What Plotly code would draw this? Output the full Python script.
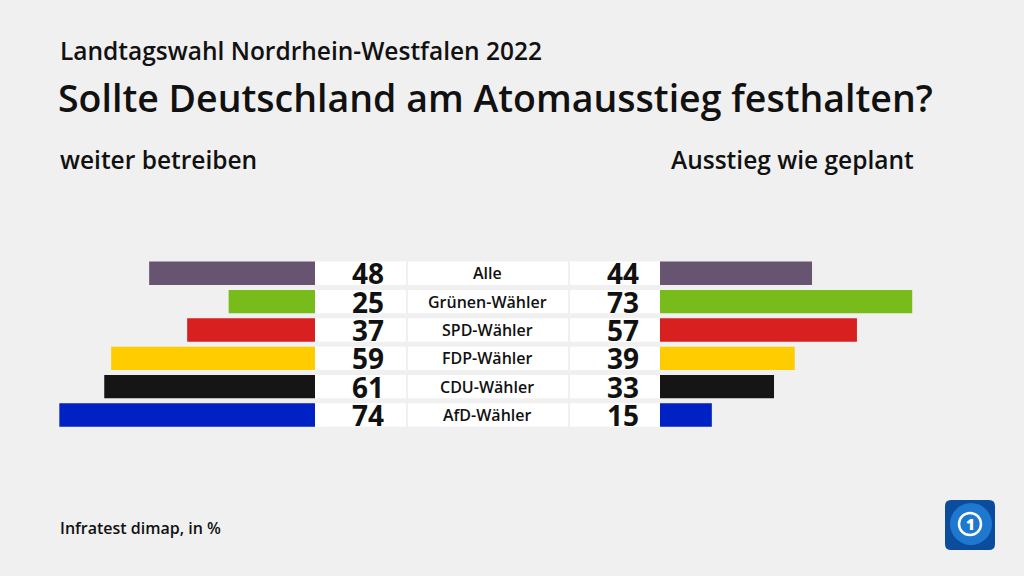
import plotly.graph_objects as go

categories = ["Alle", "Grünen-Wähler", "SPD-Wähler", "FDP-Wähler", "CDU-Wähler", "AfD-Wähler"]
weiter_betreiben = [48, 25, 37, 59, 61, 74]
ausstieg_wie_geplant = [44, 73, 57, 39, 33, 15]
colors = ["#675471", "#78bc1b", "#d82020", "#ffcc00", "#151515", "#0021c3"]

W, H = 1024, 576
BG = "#f0f0f0"
FONT = "Open Sans"
PX_PER_UNIT = 3.455

def px(x):
    return x / W

def py(y):
    return 1 - y / H

ypos = list(range(len(categories)))
row_top, row_bottom = 259.1, 429.2

fig = go.Figure()
fig.add_trace(go.Bar(
    y=ypos, x=weiter_betreiben, orientation="h", marker=dict(color=colors, line=dict(width=0)),
    width=0.825, xaxis="x", yaxis="y", hoverinfo="skip", showlegend=False))
fig.add_trace(go.Bar(
    y=ypos, x=ausstieg_wie_geplant, orientation="h", marker=dict(color=colors, line=dict(width=0)),
    width=0.825, xaxis="x2", yaxis="y", hoverinfo="skip", showlegend=False))

shapes = []
annotations = []
half = 0.825 / 2
for i, cat in enumerate(categories):
    for x0, x1 in [(315, 406), (408, 568), (570, 660)]:
        shapes.append(dict(type="rect", xref="paper", yref="y", x0=px(x0), x1=px(x1),
                           y0=i - half, y1=i + half, fillcolor="white", line=dict(width=0), layer="below"))
    annotations.append(dict(xref="paper", yref="y", x=px(386), y=i, text=str(weiter_betreiben[i]),
                            xanchor="right", yanchor="middle", showarrow=False,
                            font=dict(family=FONT, size=28, color="#111", weight=700)))
    annotations.append(dict(xref="paper", yref="y", x=px(641), y=i, text=str(ausstieg_wie_geplant[i]),
                            xanchor="right", yanchor="middle", showarrow=False,
                            font=dict(family=FONT, size=28, color="#111", weight=700)))
    annotations.append(dict(xref="paper", yref="y", x=px(487), y=i, text=cat,
                            xanchor="center", yanchor="middle", showarrow=False,
                            font=dict(family=FONT, size=16, color="#111", weight=600)))

# titles
annotations += [
    dict(xref="paper", yref="paper", x=px(58), y=py(51), text="Landtagswahl Nordrhein-Westfalen 2022",
         xanchor="left", yanchor="middle", showarrow=False,
         font=dict(family=FONT, size=24.5, color="#111", weight=600)),
    dict(xref="paper", yref="paper", x=px(56), y=py(97), text="Sollte Deutschland am Atomausstieg festhalten?",
         xanchor="left", yanchor="middle", showarrow=False,
         font=dict(family=FONT, size=37.5, color="#111", weight=600)),
    dict(xref="paper", yref="paper", x=px(58), y=py(159), text="weiter betreiben",
         xanchor="left", yanchor="middle", showarrow=False,
         font=dict(family=FONT, size=24.5, color="#111", weight=600)),
    dict(xref="paper", yref="paper", x=px(916), y=py(159), text="Ausstieg wie geplant",
         xanchor="right", yanchor="middle", showarrow=False,
         font=dict(family=FONT, size=24.5, color="#111", weight=600)),
    dict(xref="paper", yref="paper", x=px(58), y=py(528), text="Infratest dimap, in %",
         xanchor="left", yanchor="middle", showarrow=False,
         font=dict(family=FONT, size=16, color="#111", weight=600)),
]

# logo
lx0, lx1, ly0, ly1, r = 945, 995, 500, 550, 6
path = (f"M {px(lx0+r)},{py(ly0)} L {px(lx1-r)},{py(ly0)} Q {px(lx1)},{py(ly0)} {px(lx1)},{py(ly0+r)} "
        f"L {px(lx1)},{py(ly1-r)} Q {px(lx1)},{py(ly1)} {px(lx1-r)},{py(ly1)} "
        f"L {px(lx0+r)},{py(ly1)} Q {px(lx0)},{py(ly1)} {px(lx0)},{py(ly1-r)} "
        f"L {px(lx0)},{py(ly0+r)} Q {px(lx0)},{py(ly0)} {px(lx0+r)},{py(ly0)} Z")
shapes.append(dict(type="path", xref="paper", yref="paper", path=path, fillcolor="#0b4c9c", line=dict(width=0)))
shapes.append(dict(type="circle", xref="paper", yref="paper", x0=px(950), x1=px(992), y0=py(545), y1=py(503),
                   fillcolor="#1f78d0", line=dict(width=0)))
shapes.append(dict(type="circle", xref="paper", yref="paper", x0=px(959), x1=px(981), y0=py(535), y1=py(513),
                   fillcolor="rgba(0,0,0,0)", line=dict(width=2.5, color="white")))
annotations.append(dict(xref="paper", yref="paper", x=px(970), y=py(524), text="1", xanchor="center",
                        yanchor="middle", showarrow=False,
                        font=dict(family=FONT, size=15, color="white", weight=800)))

fig.update_layout(
    width=W, height=H, margin=dict(l=0, r=0, t=0, b=0),
    paper_bgcolor=BG, plot_bgcolor="rgba(0,0,0,0)", barmode="overlay",
    xaxis=dict(domain=[0, px(315)], range=[315 / PX_PER_UNIT, 0], visible=False, fixedrange=True),
    xaxis2=dict(domain=[px(660), 1], range=[0, (W - 660) / PX_PER_UNIT], visible=False, fixedrange=True),
    yaxis=dict(domain=[py(row_bottom), py(row_top)], range=[5.5, -0.5], visible=False, fixedrange=True),
    shapes=shapes, annotations=annotations,
)
fig.write_html("out.html", config={"displayModeBar": False, "staticPlot": True},
               post_script="document.body.style.margin='0';document.body.style.background='#f0f0f0';")
